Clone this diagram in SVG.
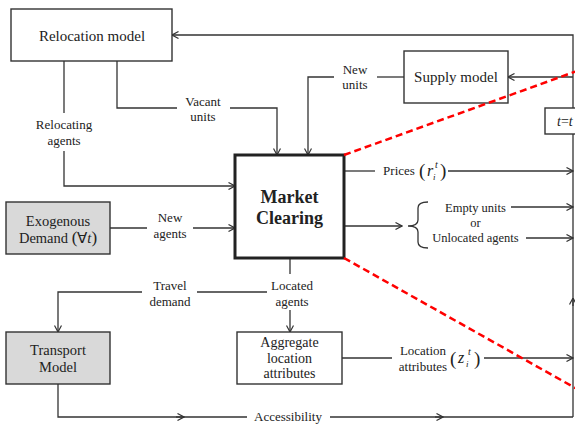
<svg xmlns="http://www.w3.org/2000/svg" width="575" height="427" viewBox="0 0 575 427">
<style>
  text { font-family: "Liberation Serif", "Times New Roman", serif; fill: #222; }
  .box { fill: #fff; stroke: #333; stroke-width: 1.4; }
  .gray { fill: #d9d9d9; stroke: #333; stroke-width: 1.4; }
  .conn { fill: none; stroke: #333; stroke-width: 1.3; }
  .red { fill: none; stroke: #ff0000; stroke-width: 2.5; stroke-dasharray: 7 4; }
  .t15 { font-size: 15px; text-anchor: middle; }
  .t14 { font-size: 14.5px; text-anchor: middle; }
  .lab { font-size: 13px; text-anchor: middle; }
  .it { font-style: italic; }
</style>
<defs>
  <marker id="ah" viewBox="0 0 8 8" refX="7.5" refY="4" markerWidth="8" markerHeight="8" markerUnits="userSpaceOnUse" orient="auto">
    <path d="M1,0.5 L7.5,4 L1,7.5" fill="none" stroke="#333" stroke-width="1.2"/>
  </marker>
</defs>

<g id="connectors">
  <!-- feedback loop -->
  <path class="conn" d="M573,417 L573,35 L172,35" marker-end="url(#ah)"/>
  <path class="conn" d="M573,77 L508,77" marker-end="url(#ah)"/>
  <path class="conn" d="M573,306 L573,298" marker-end="url(#ah)"/>
  <!-- relocating agents -->
  <path class="conn" d="M64,61 L64,113"/>
  <path class="conn" d="M64,151 L64,186 L235,186" marker-end="url(#ah)"/>
  <!-- vacant units -->
  <path class="conn" d="M117,61 L117,108 L177,108"/>
  <path class="conn" d="M230,108 L277,108 L277,155" marker-end="url(#ah)"/>
  <!-- new units -->
  <path class="conn" d="M404,77 L377,77"/>
  <path class="conn" d="M334,77 L308,77 L308,155" marker-end="url(#ah)"/>
  <!-- new agents -->
  <path class="conn" d="M110,228 L147,228"/>
  <path class="conn" d="M193,228 L235,228" marker-end="url(#ah)"/>
  <!-- prices -->
  <path class="conn" d="M344,171 L375,171"/>
  <path class="conn" d="M448,171 L573,171" marker-end="url(#ah)"/>
  <!-- empty / unlocated -->
  <path class="conn" d="M344,226 L402,226" marker-end="url(#ah)"/>
  <path class="conn" d="M428,202 Q418,202 418,208 L418,220 Q418,226 408,226 Q418,226 418,232 L418,242 Q418,248 428,248"/>
  <path class="conn" d="M511,207 L573,207" marker-end="url(#ah)"/>
  <path class="conn" d="M526,238 L573,238" marker-end="url(#ah)"/>
  <!-- located agents / travel demand -->
  <path class="conn" d="M290,258 L290,274"/>
  <path class="conn" d="M267,292 L197,292"/>
  <path class="conn" d="M142,292 L58,292 L58,332" marker-end="url(#ah)"/>
  <path class="conn" d="M290,310 L290,332" marker-end="url(#ah)"/>
  <!-- location attributes -->
  <path class="conn" d="M342,358 L392,358"/>
  <path class="conn" d="M484,358 L573,358" marker-end="url(#ah)"/>
  <!-- accessibility -->
  <path class="conn" d="M58,384 L58,417 L247,417"/>
  <path class="conn" d="M176,417 L184,417" marker-end="url(#ah)"/>
  <path class="conn" d="M330,417 L573,417"/>
  <path class="conn" d="M435,417 L443,417" marker-end="url(#ah)"/>
</g>

<g id="labels">
  <text class="lab" x="64" y="129">Relocating</text>
  <text class="lab" x="64" y="145">agents</text>
  <text class="lab" x="203" y="106">Vacant</text>
  <text class="lab" x="203" y="121">units</text>
  <text class="lab" x="355" y="74">New</text>
  <text class="lab" x="355" y="89">units</text>
  <text class="lab" x="170" y="222">New</text>
  <text class="lab" x="170" y="238">agents</text>
  <text class="lab" x="399" y="175">Prices</text>
  <text x="419" y="177" style="font-size:19px">(</text>
  <text class="it" x="427" y="176" style="font-size:16px">r</text>
  <text class="it" x="435" y="168" style="font-size:10px">t</text>
  <text class="it" x="433" y="180" style="font-size:9px">i</text>
  <text x="440" y="177" style="font-size:19px">)</text>
  <text class="lab" x="475.5" y="212" style="font-size:12.5px">Empty units</text>
  <text class="lab" x="475.5" y="227" style="font-size:12.5px">or</text>
  <text class="lab" x="475.5" y="242" style="font-size:12.5px">Unlocated agents</text>
  <text class="lab" x="170" y="290">Travel</text>
  <text class="lab" x="170" y="306">demand</text>
  <text class="lab" x="292" y="290">Located</text>
  <text class="lab" x="292" y="306">agents</text>
  <text class="lab" x="423" y="355">Location</text>
  <text class="lab" x="423" y="371">attributes</text>
  <text x="450" y="365" style="font-size:19px">(</text>
  <text class="it" x="458" y="363" style="font-size:16px">z</text>
  <text class="it" x="468" y="355" style="font-size:10px">t</text>
  <text class="it" x="466" y="367" style="font-size:9px">i</text>
  <text x="474" y="365" style="font-size:19px">)</text>
  <text class="lab" x="288" y="421">Accessibility</text>
</g>

<g id="relocation-model">
  <rect class="box" x="11" y="9" width="161" height="52"/>
  <text class="t15" x="92" y="41">Relocation model</text>
</g>
<g id="supply-model">
  <rect class="box" x="404" y="51" width="104" height="52"/>
  <text class="t15" x="456" y="82">Supply model</text>
</g>
<g id="time-step">
  <rect class="box" x="545" y="108" width="60" height="26"/>
  <text class="it" x="557" y="126" style="font-size:14px">t<tspan style="font-style:normal">=</tspan>t</text>
</g>
<g id="market-clearing">
  <rect x="235" y="155" width="109" height="103" fill="#fff" stroke="#222" stroke-width="3"/>
  <text x="289.5" y="203" style="font-size:18px;font-weight:bold;text-anchor:middle">Market</text>
  <text x="289.5" y="224" style="font-size:18px;font-weight:bold;text-anchor:middle">Clearing</text>
</g>
<g id="exogenous-demand">
  <rect class="gray" x="6" y="202" width="104" height="52"/>
  <text class="t14" x="58" y="226">Exogenous</text>
  <text class="t14" x="58" y="243">Demand <tspan style="font-size:17px">(</tspan>∀<tspan class="it">t</tspan><tspan style="font-size:17px">)</tspan></text>
</g>
<g id="transport-model">
  <rect class="gray" x="6" y="332" width="104" height="52"/>
  <text class="t14" x="58" y="355">Transport</text>
  <text class="t14" x="58" y="372">Model</text>
</g>
<g id="aggregate-location-attributes">
  <rect class="box" x="237" y="332" width="105" height="52"/>
  <text class="t14" x="289.5" y="347" style="font-size:14px">Aggregate</text>
  <text class="t14" x="289.5" y="363" style="font-size:14px">location</text>
  <text class="t14" x="289.5" y="378" style="font-size:14px">attributes</text>
</g>

<g id="zoom-lines">
  <line class="red" x1="344" y1="155" x2="577" y2="71"/>
  <line class="red" x1="344" y1="258" x2="577" y2="389"/>
</g>
</svg>
